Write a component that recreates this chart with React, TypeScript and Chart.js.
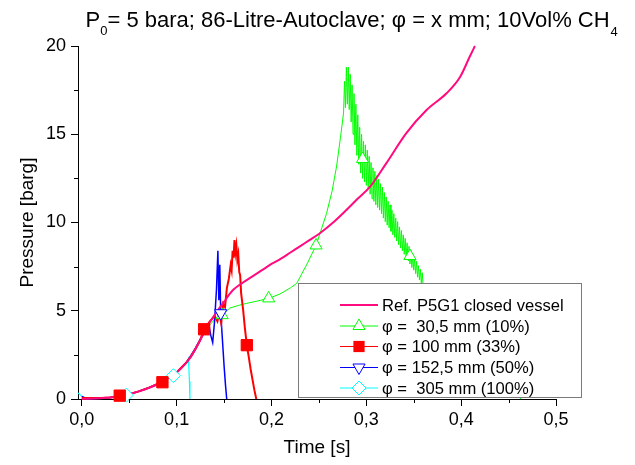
import React, { useEffect, useRef } from 'react';
import { Chart, registerables } from 'chart.js';

Chart.register(...registerables);

const FONT = '"Liberation Sans", Arial, Helvetica, sans-serif';

// ---------- data (time in s, pressure in barg) ----------
const refX = [0, 0.02, 0.03, 0.04, 0.05, 0.06, 0.07, 0.08, 0.09, 0.10, 0.11, 0.115, 0.12, 0.125, 0.13, 0.135, 0.14, 0.145, 0.15, 0.156, 0.16, 0.17, 0.18, 0.19, 0.20, 0.21, 0.22, 0.23, 0.24, 0.25, 0.265, 0.279, 0.29, 0.304, 0.321, 0.342, 0.3635, 0.3846, 0.399, 0.409, 0.4145];
const refY = [0, 0.04, 0.08, 0.15, 0.27, 0.43, 0.62, 0.85, 1.15, 1.5, 2.05, 2.4, 2.85, 3.35, 3.9, 4.35, 4.75, 5.15, 5.5, 5.95, 6.2, 6.6, 6.95, 7.3, 7.65, 7.95, 8.3, 8.65, 9.0, 9.35, 10.0, 10.71, 11.3, 12.03, 13.35, 15.05, 16.37, 17.32, 18.26, 19.39, 20.0];

const greenX = [0, 0.02, 0.03, 0.04, 0.05, 0.06, 0.07, 0.08, 0.09, 0.10, 0.11, 0.115, 0.12, 0.125, 0.13, 0.135, 0.14, 0.148, 0.156, 0.165, 0.174, 0.185, 0.197, 0.209, 0.22, 0.2266, 0.237, 0.247, 0.258, 0.264, 0.2687, 0.2727, 0.276,
  0.277, 0.278, 0.279, 0.280, 0.281, 0.282, 0.283, 0.284, 0.285, 0.286, 0.287, 0.288, 0.289, 0.290,
  0.291, 0.292, 0.293, 0.294, 0.295, 0.296, 0.297, 0.298, 0.299, 0.300,
  0.301, 0.302, 0.303, 0.304, 0.305, 0.306, 0.307, 0.308, 0.309, 0.310,
  0.311, 0.312, 0.313, 0.314, 0.315, 0.316, 0.317, 0.318, 0.319, 0.320,
  0.321, 0.322, 0.323, 0.324, 0.325, 0.326, 0.327, 0.328, 0.329, 0.330,
  0.331, 0.332, 0.333, 0.334, 0.335, 0.336, 0.337, 0.338, 0.339, 0.340,
  0.341, 0.342, 0.343, 0.344, 0.345, 0.346, 0.347, 0.348, 0.349, 0.350,
  0.351, 0.352, 0.353, 0.354, 0.355, 0.356, 0.357, 0.358, 0.359, 0.360,
  0.37, 0.38, 0.40, 0.42, 0.44, 0.463];
const greenY = [0.05, 0.04, 0.08, 0.15, 0.27, 0.43, 0.62, 0.85, 1.15, 1.5, 2.0, 2.35, 2.8, 3.3, 3.8, 4.2, 4.5, 4.75, 5.15, 5.3, 5.42, 5.55, 5.7, 5.95, 6.3, 6.55, 7.6, 8.7, 10.5, 11.8, 13.2, 14.8, 16.2,
  18.0, 16.5, 18.8, 16.7, 18.8, 16.4, 18.4, 15.7, 17.8, 15.0, 17.3, 14.4, 16.7, 13.8,
  16.1, 13.3, 15.4, 12.8, 15.0, 12.5, 14.6, 12.3, 14.4, 12.1,
  14.1, 11.9, 13.75, 11.6, 13.4, 11.35, 13.1, 11.2, 12.9, 11.0,
  12.65, 10.85, 12.45, 10.7, 12.2, 10.5, 12.0, 10.25, 11.7, 10.05,
  11.45, 9.85, 11.2, 9.7, 11.0, 9.5, 10.7, 9.3, 10.5, 9.15,
  10.25, 8.95, 10.05, 8.75, 9.75, 8.55, 9.55, 8.4, 9.3, 8.2,
  9.1, 8.0, 8.85, 7.85, 8.65, 7.65, 8.45, 7.45, 8.2, 7.3,
  8.0, 7.1, 7.8, 6.9, 7.55, 6.75, 7.35, 6.55, 7.15, 6.35,
  5.8, 5.0, 3.6, 2.4, 1.2, 0];
const greenMarkX = [0.148, 0.197, 0.247, 0.296, 0.346, 0.395, 0.445];
const greenMarkY = [4.75, 5.7, 8.7, 13.6, 8.1, 4.2, 1.1];

const redX = [0, 0.02, 0.03, 0.04, 0.05, 0.06, 0.07, 0.08, 0.085, 0.09, 0.10, 0.11, 0.115, 0.12, 0.125, 0.129, 0.135, 0.14, 0.143, 0.145, 0.147, 0.149, 0.151, 0.153, 0.155, 0.157, 0.158, 0.159, 0.160, 0.161, 0.162, 0.163, 0.164, 0.165, 0.166, 0.167, 0.168, 0.170, 0.172, 0.174, 0.176, 0.178, 0.180, 0.182, 0.184];
const redY = [0.05, 0.05, 0.08, 0.17, 0.27, 0.43, 0.62, 0.85, 0.95, 1.15, 1.5, 2.05, 2.4, 2.85, 3.35, 3.95, 4.4, 4.7, 4.4, 4.9, 4.3, 5.4, 5.2, 6.3, 6.8, 7.6, 7.3, 8.4, 8.0, 9.0, 8.3, 8.7, 7.9, 8.2, 7.2, 7.0, 6.0, 5.1, 4.0, 3.05, 2.4, 1.7, 1.1, 0.5, 0];
const redMarkX = [0.04, 0.085, 0.129, 0.174];
const redMarkY = [0.19, 0.95, 3.95, 3.05];

const blueX = [0, 0.005, 0.02, 0.03, 0.04, 0.05, 0.06, 0.07, 0.08, 0.09, 0.10, 0.11, 0.115, 0.12, 0.125, 0.13, 0.134, 0.136, 0.138, 0.140, 0.142, 0.1435, 0.1445, 0.1455, 0.1465, 0.148, 0.150, 0.1515, 0.1528];
const blueY = [0.15, 0.02, 0.04, 0.08, 0.15, 0.27, 0.43, 0.62, 0.85, 1.15, 1.5, 2.05, 2.45, 2.9, 3.4, 3.9, 4.2, 3.6, 3.2, 4.4, 6.2, 8.4, 5.6, 7.6, 4.86, 3.6, 1.9, 0.8, 0];
const blueMarkX = [0.1465];
const blueMarkY = [4.86];

const cyanX = [-0.004, 0, 0.005, 0.02, 0.03, 0.04, 0.047, 0.05, 0.06, 0.07, 0.08, 0.09, 0.0966, 0.10, 0.105, 0.11, 0.1125, 0.1135, 0.114];
const cyanY = [0.35, 0.15, 0.02, 0.04, 0.08, 0.15, 0.22, 0.27, 0.43, 0.62, 0.85, 1.15, 1.32, 1.5, 1.75, 2.05, 2.3, 1.0, 0];
const cyanMarkX = [0.047, 0.0966];
const cyanMarkY = [0.22, 1.32];

const seriesNames = [
  'Ref. P5G1 closed vessel',
  'φ =  30,5 mm (10%)',
  'φ = 100 mm (33%)',
  'φ = 152,5 mm (50%)',
  'φ =  305 mm (100%)',
];

const xTickValues = [0, 0.1, 0.2, 0.3, 0.4, 0.5];
const xTickLabels = ['0,0', '0,1', '0,2', '0,3', '0,4', '0,5'];
const xMinorTicks = [0.05, 0.15, 0.25, 0.35, 0.45];
const yTickValues = [0, 5, 10, 15, 20];
const yTickLabels = ['0', '5', '10', '15', '20'];
const yMinorTicks = [2.5, 7.5, 12.5, 17.5];

const titleMain = '= 5 bara; 86-Litre-Autoclave; φ = x mm; 10Vol% CH';

// ---------- styles ----------
const PINK = '#FF0A7F';
const GREEN = '#00FF00';
const RED = '#FF0000';
const BLUE = '#0000FF';
const CYAN = '#00FFFF';

const zip = (xs: number[], ys: number[]) => xs.map((x, i) => ({ x, y: ys[i] }));

function drawMarker(ctx: CanvasRenderingContext2D, kind: string, x: number, y: number, r: number, color: string) {
  ctx.save();
  ctx.lineWidth = 1;
  ctx.strokeStyle = color;
  ctx.beginPath();
  if (kind === 'up') {
    ctx.moveTo(x, y - r);
    ctx.lineTo(x + r * 0.866, y + r * 0.5);
    ctx.lineTo(x - r * 0.866, y + r * 0.5);
    ctx.closePath();
    ctx.fillStyle = '#fff';
    ctx.fill();
    ctx.stroke();
  } else if (kind === 'down') {
    ctx.moveTo(x, y + r);
    ctx.lineTo(x + r * 0.866, y - r * 0.5);
    ctx.lineTo(x - r * 0.866, y - r * 0.5);
    ctx.closePath();
    ctx.fillStyle = '#fff';
    ctx.fill();
    ctx.stroke();
  } else if (kind === 'square') {
    const s = r * 0.8;
    ctx.rect(x - s, y - s, 2 * s, 2 * s);
    ctx.fillStyle = color;
    ctx.fill();
  } else if (kind === 'diamond') {
    ctx.moveTo(x, y - r);
    ctx.lineTo(x + r, y);
    ctx.lineTo(x, y + r);
    ctx.lineTo(x - r, y);
    ctx.closePath();
    ctx.fillStyle = '#fff';
    ctx.fill();
    ctx.stroke();
  }
  ctx.restore();
}

const decorPlugin = {
  id: 'decor',
  afterDraw(chart: any) {
    const ctx: CanvasRenderingContext2D = chart.ctx;
    const xs = chart.scales.x;
    const ys = chart.scales.y;
    const area = chart.chartArea;
    ctx.save();
    // minor ticks
    ctx.strokeStyle = '#000';
    ctx.lineWidth = 1;
    ctx.beginPath();
    for (const v of xMinorTicks) {
      const px = Math.round(xs.getPixelForValue(v)) + 0.5;
      ctx.moveTo(px, area.bottom);
      ctx.lineTo(px, area.bottom + 4);
    }
    for (const v of yMinorTicks) {
      const py = Math.round(ys.getPixelForValue(v)) + 0.5;
      ctx.moveTo(area.left - 4, py);
      ctx.lineTo(area.left, py);
    }
    ctx.stroke();

    // legend box
    const bx = 298, by = 283, bw = 283, bh = 114;
    ctx.fillStyle = '#fff';
    ctx.fillRect(bx, by, bw, bh);
    ctx.strokeStyle = '#7a7a7a';
    ctx.strokeRect(bx + 0.5, by + 0.5, bw, bh);
    const rows = [305, 326, 346.5, 367.5, 388];
    const colors = [PINK, GREEN, RED, BLUE, CYAN];
    const kinds = ['', 'up', 'square', 'down', 'diamond'];
    ctx.font = `16.6px ${FONT}`;
    ctx.textBaseline = 'middle';
    ctx.textAlign = 'left';
    rows.forEach((ry, i) => {
      ctx.beginPath();
      ctx.strokeStyle = colors[i];
      ctx.lineWidth = i === 0 ? 2 : 1;
      ctx.moveTo(340, ry);
      ctx.lineTo(378, ry);
      ctx.stroke();
      if (kinds[i]) drawMarker(ctx, kinds[i], 359, ry, 7, colors[i]);
      ctx.fillStyle = '#000';
      ctx.fillText(seriesNames[i], 382, ry + 1);
    });

    // title with subscripts
    const big = `22px ${FONT}`;
    const small = `13px ${FONT}`;
    ctx.textBaseline = 'alphabetic';
    ctx.fillStyle = '#000';
    ctx.font = big;
    const wP = ctx.measureText('P').width;
    ctx.font = small;
    const w0 = ctx.measureText('0').width;
    ctx.font = big;
    const wEq = ctx.measureText('= 5 bara; ').width;
    const startX = 201 - wEq - w0 - wP;
    const base = 27;
    ctx.fillText('P', startX, base);
    ctx.font = small;
    ctx.fillText('0', startX + wP, base + 8);
    ctx.font = big;
    ctx.fillText(titleMain, startX + wP + w0, base);
    const wMain = ctx.measureText(titleMain).width;
    ctx.font = small;
    ctx.fillText('4', startX + wP + w0 + wMain + 1, base + 9);
    ctx.restore();
  },
};

export default function App() {
  const ref = useRef<HTMLCanvasElement | null>(null);

  useEffect(() => {
    if (!ref.current) return;
    Chart.defaults.color = '#000';
    Chart.defaults.font.family = FONT;

    const markerSet = (xs: number[], ys: number[], color: string, style: string, r: number, fill: string, rot = 0) => ({
      data: zip(xs, ys),
      showLine: false,
      pointStyle: style,
      pointRadius: r,
      pointRotation: rot,
      pointBorderWidth: 1,
      pointBorderColor: color,
      pointBackgroundColor: fill,
      borderColor: color,
      backgroundColor: fill,
      clip: 8,
    });
    const lineSet = (xs: number[], ys: number[], color: string, w: number, smooth = false) => ({
      data: zip(xs, ys),
      borderColor: color,
      backgroundColor: color,
      borderWidth: w,
      pointRadius: 0,
      tension: smooth ? 0.35 : 0,
      cubicInterpolationMode: smooth ? 'monotone' : 'default',
      fill: false,
      clip: 3,
    });

    const chart = new Chart(ref.current, {
      type: 'line',
      data: {
        datasets: [
          markerSet(redMarkX, redMarkY, RED, 'rect', 8, RED),
          markerSet(blueMarkX, blueMarkY, BLUE, 'triangle', 7, '#fff', 180),
          markerSet(cyanMarkX, cyanMarkY, CYAN, 'rectRot', 7, '#fff'),
          markerSet(greenMarkX, greenMarkY, GREEN, 'triangle', 7, '#fff'),
          lineSet(refX, refY, PINK, 2, true),
          lineSet(redX, redY, RED, 2),
          lineSet(blueX, blueY, BLUE, 1.5),
          lineSet(cyanX, cyanY, CYAN, 1.2),
          lineSet(greenX, greenY, GREEN, 1),
        ] as any,
      },
      options: {
        responsive: false,
        animation: false,
        devicePixelRatio: 1,
        layout: { padding: { left: 0, top: 46, right: 79, bottom: 0 } },
        plugins: { legend: { display: false }, tooltip: { enabled: false }, title: { display: false } },
        scales: {
          x: {
            type: 'linear',
            min: -0.004,
            max: 0.5,
            afterBuildTicks: (s: any) => { s.ticks = xTickValues.map((v) => ({ value: v })); },
            afterFit: (s: any) => { s.height = 66; },
            ticks: {
              callback: (v: any) => { const i = xTickValues.indexOf(Number(v)); return i >= 0 ? xTickLabels[i] : ''; },
              font: { size: 18, family: FONT },
              color: '#000',
              padding: 3,
              maxRotation: 0,
              autoSkip: false,
            },
            grid: { drawOnChartArea: false, tickLength: 7, color: '#000', tickColor: '#000' },
            border: { display: true, color: '#000', width: 1 },
            title: { display: true, text: 'Time [s]', font: { size: 19, family: FONT }, color: '#000', padding: { top: 0, bottom: 6 } },
          },
          y: {
            type: 'linear',
            min: 0,
            max: 20,
            afterBuildTicks: (s: any) => { s.ticks = yTickValues.map((v) => ({ value: v })); },
            afterFit: (s: any) => { s.width = 78; },
            ticks: {
              callback: (v: any) => { const i = yTickValues.indexOf(Number(v)); return i >= 0 ? yTickLabels[i] : ''; },
              font: { size: 18, family: FONT },
              color: '#000',
              padding: 5,
              autoSkip: false,
            },
            grid: { drawOnChartArea: false, tickLength: 7, color: '#000', tickColor: '#000' },
            border: { display: true, color: '#000', width: 1 },
            title: { display: true, text: 'Pressure [barg]', font: { size: 19, family: FONT }, color: '#000', padding: { top: 16, bottom: 0 } },
          },
        },
      } as any,
      plugins: [decorPlugin],
    });
    return () => chart.destroy();
  }, []);

  return (
    <div style={{ position: 'absolute', left: 0, top: 0, width: 635, height: 465, background: '#fff' }}>
      <canvas ref={ref} width={635} height={465} style={{ display: 'block', width: 635, height: 465 }} />
    </div>
  );
}
